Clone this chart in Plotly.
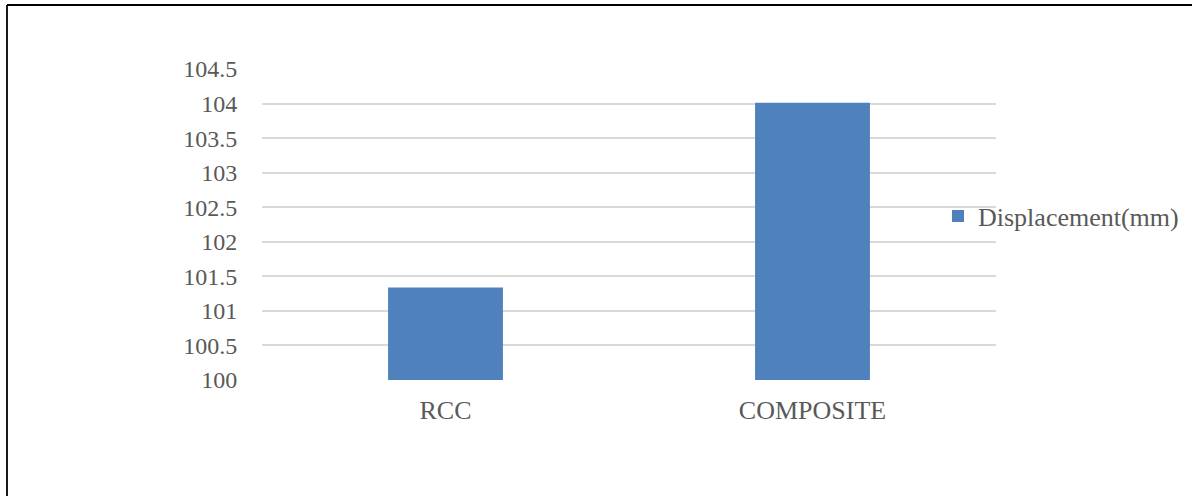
import plotly.graph_objects as go

categories = ["RCC", "COMPOSITE"]
displacement = [101.34, 104.01]
series_name = "Displacement(mm)"
y_ticks = [100, 100.5, 101, 101.5, 102, 102.5, 103, 103.5, 104, 104.5]
y_tick_text = ["100", "100.5", "101", "101.5", "102", "102.5", "103", "103.5", "104", "104.5"]

W, H = 1192, 496
L, R, T, B = 262, 196, 69, 116
pw, ph = W - L - R, H - T - B

FONT = "Liberation Serif, Times New Roman, serif"
GREY = "#595959"

fig = go.Figure()
fig.add_trace(go.Bar(
    x=categories, y=displacement, name=series_name,
    marker=dict(color="#4F81BD", line=dict(width=0)),
    showlegend=True,
))

bx = (7 - L) / pw
by = (H - B - 5) / ph

fig.update_layout(
    width=W, height=H,
    margin=dict(l=L, r=R, t=T, b=B, pad=0, autoexpand=False),
    paper_bgcolor="white", plot_bgcolor="white",
    font=dict(family=FONT, size=26, color=GREY),
    bargap=0.687,
    showlegend=True,
    legend=dict(
        x=(938 - L) / pw, xanchor="left",
        y=(H - B - 216) / ph, yanchor="middle",
        font=dict(family=FONT, size=26, color=GREY),
        bgcolor="rgba(0,0,0,0)", borderwidth=0,
    ),
    xaxis=dict(
        showgrid=False, showline=False, zeroline=False,
        ticks="outside", ticklen=7, tickcolor="rgba(0,0,0,0)",
        tickfont=dict(family=FONT, size=26, color=GREY),
    ),
    yaxis=dict(
        range=[100, 104.5], tickvals=y_ticks, ticktext=y_tick_text,
        showgrid=True, gridcolor="#D9D9D9", gridwidth=1.6,
        showline=False, zeroline=False,
        ticks="outside", ticklen=19, tickcolor="rgba(0,0,0,0)",
        tickfont=dict(family=FONT, size=24, color=GREY),
    ),
    shapes=[
        dict(type="line", xref="paper", yref="paper", x0=bx, x1=bx, y0=-1, y1=by,
             line=dict(color="#000000", width=1.8)),
        dict(type="line", xref="paper", yref="paper", x0=bx, x1=1.5, y0=by, y1=by,
             line=dict(color="#000000", width=1.8)),
    ],
)

fig.write_html(
    "out.html",
    config={"displayModeBar": False},
    post_script="document.body.style.margin='0';document.body.style.overflow='hidden';",
)
